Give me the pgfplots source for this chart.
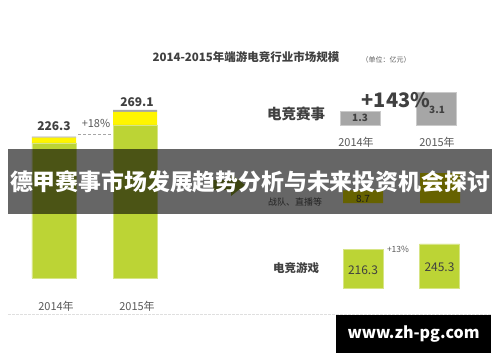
\documentclass[border=0pt]{standalone}
\usepackage{pgfplots}
\pgfplotsset{compat=1.18}
\usepackage{fontspec}
\setmainfont{Noto Sans CJK SC}
\definecolor{cgreen}{HTML}{BCD435}
\definecolor{cyellow}{HTML}{FFF500}
\definecolor{cgray}{HTML}{A6A6A6}
\definecolor{tdark}{HTML}{404040}
\definecolor{tmid}{HTML}{595959}
\newcommand{\fs}[1]{\fontsize{#1}{#1}\selectfont}
\begin{document}
\begin{tikzpicture}[x=1pt,y=1pt]
\useasboundingbox[fill=white] (0,0) rectangle (500,362);

% left stacked bars
\begin{axis}[at={(13.5pt,84pt)}, anchor=south west, scale only axis,
  width=162pt, height=187.3pt, xmin=-0.5, xmax=1.5, ymin=0, ymax=300,
  axis lines=none, ybar stacked, bar width=44pt, clip=false]
\addplot[fill=cgreen, draw=cgreen!60!white] coordinates {(0,216.3) (1,245.3)};
\addplot[fill=cyellow, draw=none] coordinates {(0,8.7) (1,20.7)};
\addplot[fill=cgray, draw=none] coordinates {(0,1.3) (1,3.1)};
\end{axis}

% right top row: events
\begin{axis}[at={(321.75pt,237pt)}, anchor=south west, scale only axis,
  width=153pt, height=42.4pt, xmin=-0.5, xmax=1.5, ymin=0, ymax=4,
  axis lines=none, ybar, bar width=40pt, clip=false]
\addplot[fill=cgray, draw=cgray!60!white] coordinates {(0,1.3) (1,3.1)};
\end{axis}

% right middle row: derivatives
\begin{axis}[at={(324.5pt,159pt)}, anchor=south west, scale only axis,
  width=154pt, height=36.2pt, xmin=-0.5, xmax=1.5, ymin=0, ymax=25,
  axis lines=none, ybar, bar width=40pt, clip=false]
\addplot[fill=cyellow, draw=none] coordinates {(0,8.7) (1,20.7)};
\end{axis}

% right bottom row: games
\begin{axis}[at={(324.75pt,74pt)}, anchor=south west, scale only axis,
  width=153pt, height=54pt, xmin=-0.5, xmax=1.5, ymin=0, ymax=300,
  axis lines=none, ybar, bar width=40pt, clip=false]
\addplot[fill=cgreen, draw=cgreen!60!white] coordinates {(0,216.3) (1,245.3)};
\end{axis}

% title
\node[text=tdark, font=\bfseries\fs{11.5}] at (246,305) {2014-2015年端游电竞行业市场规模};
\node[text=tmid, font=\fs{7}] at (386,302) {（单位：亿元）};

% left labels
\node[text=tdark, font=\bfseries\fs{12}] at (54,236) {226.3};
\node[text=tdark, font=\bfseries\fs{12}] at (137,260) {269.1};
\node[text=tmid, font=\fs{11}] at (96,239) {+18\%};
\draw[gray!70, densely dashed] (78,228) -- (112,228);
\node[text=tmid, font=\fs{11}] at (56,56) {2014年};
\node[text=tmid, font=\fs{11}] at (137,56) {2015年};

% right top
\node[text=tdark, font=\bfseries\fs{14.5}] at (296,248) {电竞赛事};
\node[text=tdark, font=\bfseries\fs{20}] at (396,262) {+143\%};
\node[text=tdark, font=\bfseries\fs{10}] at (360,244) {1.3};
\node[text=tdark, font=\bfseries\fs{10}] at (437,252) {3.1};
\node[text=tmid, font=\fs{11}] at (356,220) {2014年};
\node[text=tmid, font=\fs{11}] at (437,220) {2015年};

% right middle
\fill[cgreen!80!black] (213,172) -- (231,172) -- (231,166) -- (245,177) -- (231,188) -- (231,182) -- (213,182) -- cycle;
\node[text=tmid, font=\fs{9}] at (295,160) {战队、直播等};
\node[text=tdark, font=\fs{10}, inner sep=1pt] at (363,163) {8.7};

% right bottom
\node[text=tdark, font=\bfseries\fs{11.5}] at (296,94) {电竞游戏};
\node[text=tdark, font=\fs{12}] at (363,92) {216.3};
\node[text=tdark, font=\fs{12}] at (439.5,95) {245.3};
\node[text=tmid, font=\fs{8.5}] at (398,113) {+13\%};

% bottom faint line
\draw[gray!25, dash pattern=on 3pt off 1pt] (8,48) -- (492,48);

% banner
\fill[black, opacity=0.6] (8,148) rectangle (492,213);
\node[text=white, font=\bfseries, inner sep=0pt] at (250,180) {\resizebox{480pt}{!}{德甲赛事市场发展趋势分析与未来投资机会探讨}};

% watermark
\fill[black] (336,9) rectangle (491,47);
\node[text=white, font=\bfseries, inner sep=0pt] at (413.5,28) {\resizebox{132pt}{!}{www.zh-pg.com}};
\end{tikzpicture}
\end{document}
